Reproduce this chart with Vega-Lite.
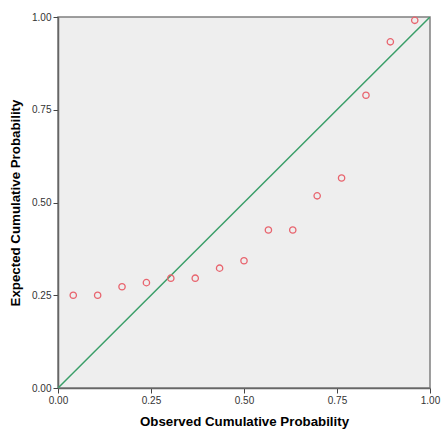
{
  "$schema": "https://vega.github.io/schema/vega-lite/v6.json",
  "autosize": "none",
  "padding": {"left": 58, "top": 17, "right": 11, "bottom": 41},
  "width": 372,
  "height": 371,
  "config": {
    "font": "Liberation Sans",
    "view": {"stroke": "#7f7f7f", "strokeWidth": 1.5, "fill": "#EEEEEE"},
    "axis": {
      "grid": false,
      "domainColor": "#666666",
      "domainWidth": 1.5,
      "tickColor": "#444444",
      "tickSize": 5,
      "labelFlush": false,
      "labelFont": "Liberation Sans",
      "labelFontSize": 10,
      "labelColor": "#333333",
      "titleFont": "Liberation Sans",
      "titleFontSize": 13.3,
      "titleFontWeight": "bold",
      "titleColor": "#000000"
    }
  },
  "layer": [
    {
      "data": {"values": [{"obs": 0, "exp": 0}, {"obs": 1, "exp": 1}]},
      "mark": {"type": "line", "color": "#3A9E68", "strokeWidth": 1.5, "clip": true},
      "encoding": {
        "x": {"field": "obs", "type": "quantitative"},
        "y": {"field": "exp", "type": "quantitative"}
      }
    },
    {
      "data": {"values": [
        {"obs": 0.0410, "exp": 0.250},
        {"obs": 0.1066, "exp": 0.250},
        {"obs": 0.1721, "exp": 0.273},
        {"obs": 0.2377, "exp": 0.284},
        {"obs": 0.3033, "exp": 0.296},
        {"obs": 0.3689, "exp": 0.296},
        {"obs": 0.4344, "exp": 0.323},
        {"obs": 0.5000, "exp": 0.343},
        {"obs": 0.5656, "exp": 0.426},
        {"obs": 0.6311, "exp": 0.426},
        {"obs": 0.6967, "exp": 0.518},
        {"obs": 0.7623, "exp": 0.566},
        {"obs": 0.8279, "exp": 0.789},
        {"obs": 0.8934, "exp": 0.933},
        {"obs": 0.9590, "exp": 0.991}
      ]},
      "mark": {"type": "point", "shape": "circle", "filled": false, "color": "#E8646E", "size": 40, "strokeWidth": 1.3, "opacity": 1},
      "encoding": {
        "x": {
          "field": "obs", "type": "quantitative",
          "title": "Observed Cumulative Probability",
          "scale": {"domain": [0, 1], "nice": false},
          "axis": {"values": [0, 0.25, 0.5, 0.75, 1], "format": ".2f", "labelPadding": 2, "titlePadding": 9}
        },
        "y": {
          "field": "exp", "type": "quantitative",
          "title": "Expected Cumulative Probability",
          "scale": {"domain": [0, 1], "nice": false},
          "axis": {"values": [0, 0.25, 0.5, 0.75, 1], "format": ".2f", "labelPadding": 2, "titlePadding": 9}
        }
      }
    }
  ]
}
